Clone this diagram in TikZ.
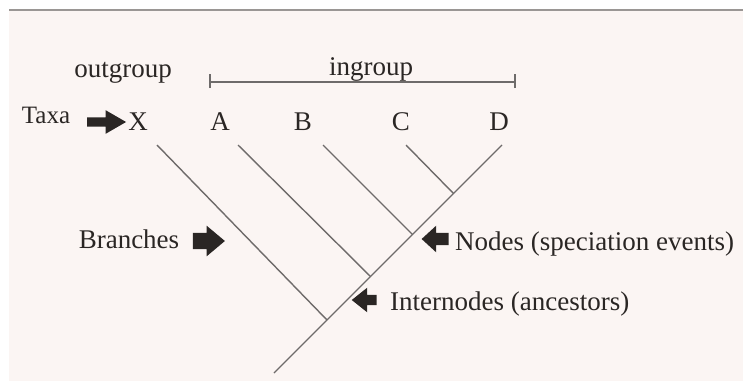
\documentclass[tikz,border=0pt]{standalone}
\usepackage{fontspec}
\setmainfont{Liberation Serif}
\usetikzlibrary{shapes.arrows}
\definecolor{bgpink}{HTML}{FBF5F3}
\definecolor{linegray}{HTML}{6E6B6A}
\definecolor{inkdark}{HTML}{2A2624}
\definecolor{topline}{HTML}{9A9694}
\tikzset{
  lbl/.style={inner sep=0pt, text=inkdark, font=\fontsize{27}{32}\selectfont, anchor=base},
  branch/.style={draw=linegray, line width=1.4pt},
  blockarrow/.style n args={4}{single arrow, fill=inkdark, draw=none, inner sep=0pt,
    minimum height=#1, text height=#2, text depth=#2, minimum width=#3,
    single arrow tip angle=#4},
}
\begin{document}
\begin{tikzpicture}[x=1pt,y=-1pt]
\useasboundingbox (0,0) rectangle (745,383);
\fill[white] (0,0) rectangle (745,383);
\fill[bgpink] (9,10) rectangle (743,381);
\draw[topline, line width=1.6pt] (9,10) -- (743,10);

% labels
\node[lbl] (outg) at (123,77) {outgroup};
\node[lbl] (ing) at (371,75) {ingroup};
\coordinate (barL) at (210,82);
\coordinate (barR) at (515,82);
\draw[branch] (barL) -- (barR);
\draw[branch] ([yshift=-6]barL) -- ([yshift=8]barL);
\draw[branch] ([yshift=-6]barR) -- ([yshift=8]barR);

\node[lbl, font=\fontsize{25}{30}\selectfont] (taxa) at (46,123) {Taxa};
\node[blockarrow={39pt}{4.5pt}{21pt}{60}, shape border rotate=0] (taxaArr) at (102.5,122) {};
\node[lbl] (X) at (138,130) {X};
\node[lbl] (A) at (220,130) {A};
\node[lbl] (B) at (303,130) {B};
\node[lbl] (C) at (401,130) {C};
\node[lbl] (D) at (499,130) {D};

% tree
\coordinate (tX) at (157,145);
\coordinate (tA) at (238,145);
\coordinate (tB) at (323,145);
\coordinate (tC) at (406,145);
\coordinate (tD) at (502,145);
\coordinate (nCD) at (453.5,193.5);
\coordinate (nB) at (412.5,234.5);
\coordinate (nA) at (370.5,276.5);
\coordinate (nX) at (327,320);
\coordinate (root) at (274,373);
\draw[branch] (tD) -- (root);
\draw[branch] (tC) -- (nCD);
\draw[branch] (tB) -- (nB);
\draw[branch] (tA) -- (nA);
\draw[branch] (tX) -- (nX);

\node[lbl] (br) at (129,248) {Branches};
\node[blockarrow={32pt}{8pt}{29pt}{80}, shape border rotate=0] (brArr) at (204,241) {};
\node[blockarrow={27pt}{6pt}{22pt}{85}, shape border rotate=180] (ndArr) at (438.5,239) {};
\node[lbl, anchor=base west] (nd) at (455,250) {Nodes (speciation events)};
\node[blockarrow={25pt}{5pt}{19pt}{77}, shape border rotate=180] (inArr) at (367.5,300) {};
\node[lbl, anchor=base west] (in) at (390,310) {Internodes (ancestors)};
\end{tikzpicture}
\end{document}
